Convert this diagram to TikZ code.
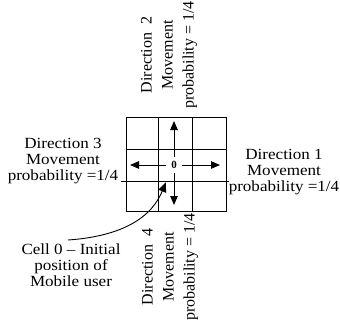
\documentclass[tikz,border=0pt]{standalone}
\usepackage{fontspec}
\setmainfont{Liberation Serif}
\newfontfamily\hfont[FakeStretch=1.1]{Liberation Serif}
\usetikzlibrary{arrows.meta}
\begin{document}
\begin{tikzpicture}[x=1pt,y=-1pt,
  htext/.style={font=\hfont\fontsize{15.5}{16}\selectfont, align=center, inner sep=0pt},
  vtext/.style={font=\fontsize{16}{21}\selectfont, align=center, rotate=90, inner sep=0pt},
  gridline/.style={line width=1pt},
  mv/.style={-{Triangle[length=9pt,width=7.5pt]}, line width=1pt},
  pointer/.style={-{Triangle[length=10pt,width=8pt]}, line width=0.9pt}]
\useasboundingbox (0,0) rectangle (340,327);
% grid
\draw[gridline] (126,117) rectangle (226,211);
\draw[gridline] (158,117) -- (158,211) (192,117) -- (192,211)
  (126,149) -- (226,149) (121,181) -- (229,181);
% centre label and arrows
\node[font=\bfseries\fontsize{11}{11}\selectfont, inner sep=1pt] (c0) at (174,165) {0};
\coordinate (upS) at (174,157);
\coordinate (upT) at (174,121);
\coordinate (dnS) at (174,173);
\coordinate (dnT) at (174,205);
\coordinate (lfS) at (166,165);
\coordinate (lfT) at (130,165);
\coordinate (rtS) at (182,165);
\coordinate (rtT) at (220,165);
\draw[mv] (upS) -- (upT);
\draw[mv] (dnS) -- (dnT);
\draw[mv] (lfS) -- (lfT);
\draw[mv] (rtS) -- (rtT);
% texts
\node[vtext] (d2) at (169,55) {Direction\ \ 2\\Movement\\probability = 1/4};
\node[vtext] (d4) at (170,267) {Direction\ \ 4\\Movement\\probability = 1/4};
\node[htext] (d3) at (63,161) {Direction 3\\Movement\\probability =1/4};
\node[htext] (d1) at (284,172) {Direction 1\\Movement\\probability =1/4};
\node[htext] (cell) at (71,265) {Cell 0 – Initial\\position of\\Mobile user};
% pointer
\coordinate (pS) at (68,240);
\coordinate (pT) at (166,182);
\draw[pointer] (pS) .. controls (125,236) and (152,216) .. (pT);
\end{tikzpicture}
\end{document}
